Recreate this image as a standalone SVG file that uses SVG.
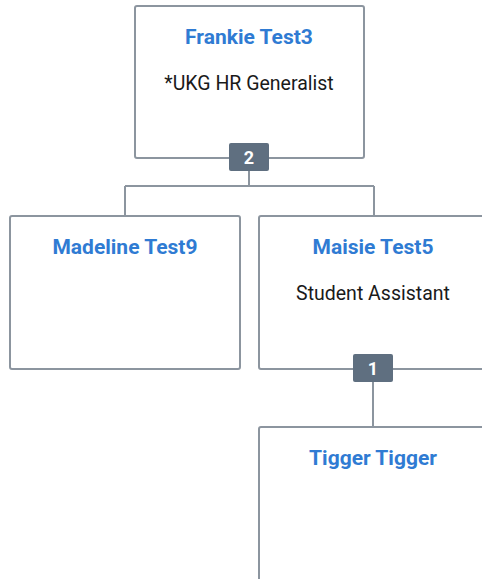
<svg xmlns="http://www.w3.org/2000/svg" width="482" height="579" viewBox="0 0 482 579">
<style>
.box{fill:#fff;stroke:#8c959f;stroke-width:2}
.name{font-family:Roboto,"Liberation Sans",sans-serif;font-weight:bold;font-size:21px;fill:#2f7bd3;text-anchor:middle}
.title{font-family:Roboto,"Liberation Sans",sans-serif;font-size:19.5px;fill:#1a1a1a;text-anchor:middle}
.badge{fill:#5f6f80}
.bt{font-family:Roboto,"Liberation Sans",sans-serif;font-weight:bold;font-size:18px;fill:#fff;text-anchor:middle}
.conn{fill:none;stroke:#8c959f;stroke-width:2}
</style>
<rect width="482" height="579" fill="#fff"/>
<g id="connectors">
<path class="conn" d="M249 171 V186 M125 186 H374 M125 186 V216 M374 186 V216"/>
<path class="conn" d="M373 382 V427"/>
</g>
<g id="frankie">
<rect class="box" x="135" y="6" width="229" height="152" rx="2"/>
<text class="name" x="249" y="44">Frankie Test3</text>
<text class="title" x="249" y="90">*UKG HR Generalist</text>
<rect class="badge" x="229" y="143" width="40" height="28" rx="2"/>
<text class="bt" x="249" y="164">2</text>
</g>
<g id="madeline">
<rect class="box" x="10" y="216" width="230" height="153" rx="2"/>
<text class="name" x="125" y="254">Madeline Test9</text>
</g>
<g id="maisie">
<rect class="box" x="259" y="216" width="232" height="153" rx="2"/>
<text class="name" x="373" y="254">Maisie Test5</text>
<text class="title" x="373" y="300">Student Assistant</text>
<rect class="badge" x="353" y="354" width="40" height="28" rx="2"/>
<text class="bt" x="373" y="375">1</text>
</g>
<g id="tigger">
<rect class="box" x="259" y="427" width="232" height="160" rx="2"/>
<text class="name" x="373" y="465">Tigger Tigger</text>
</g>
</svg>
